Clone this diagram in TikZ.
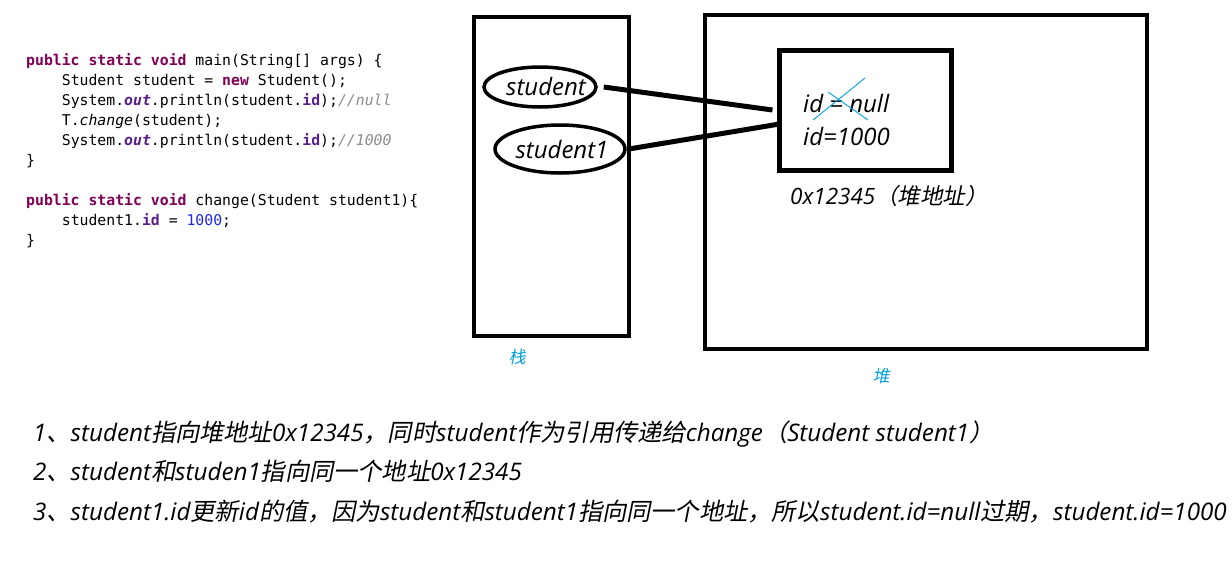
\documentclass[tikz,border=0pt]{standalone}
\usepackage{fontspec}
\usetikzlibrary{shapes.geometric}
\newfontfamily\lat{Open Sans}
\newfontfamily\cj[FakeSlant=0.2]{Noto Sans CJK SC}
\newfontfamily\code{DejaVu Sans Mono}
\newcommand\zh[1]{{\cj #1}}
\definecolor{kw}{RGB}{127,0,85}
\definecolor{fld}{RGB}{90,30,140}
\definecolor{num}{RGB}{30,40,240}
\definecolor{cmt}{RGB}{140,140,140}
\definecolor{lblue}{RGB}{0,160,230}
\newcommand\kwd[1]{{\bfseries\color{kw}#1}}
\newcommand\fd[1]{{\bfseries\itshape\color{fld}#1}}
\newcommand\fb[1]{{\bfseries\color{fld}#1}}
\newcommand\cm[1]{{\itshape\color{cmt}#1}}
\begin{document}
\begin{tikzpicture}[x=1pt,y=-1pt,
  box/.style={draw,line width=4pt,inner sep=0pt},
  oval/.style={draw,ellipse,line width=3.5pt,inner sep=0pt},
  link/.style={line width=5pt},
  codeline/.style={anchor=base west,inner sep=0pt,font=\code\fontsize{14.8}{16}\selectfont},
  note/.style={anchor=base west,inner sep=0pt,font=\lat\itshape\fontsize{24.2}{27}\selectfont},
  val/.style={anchor=base west,inner sep=0pt,font=\lat\itshape\fontsize{24}{28}\selectfont},
  tag/.style={inner sep=0pt,text=lblue,font=\cj\fontsize{17}{19}\selectfont}]
\useasboundingbox (0,0) rectangle (1232,581);
\fill[white] (0,0) rectangle (1232,581);
% code
\node[codeline] (c1) at (26,65) {\kwd{public} \kwd{static} \kwd{void} main(String[] args) \{};
\node[codeline] (c2) at (26,85) {\phantom{xxxx}Student student = \kwd{new} Student();};
\node[codeline] (c3) at (26,105) {\phantom{xxxx}System.\fd{out}.println(student.\fb{id});\cm{//null}};
\node[codeline] (c4) at (26,125) {\phantom{xxxx}T.{\itshape change}(student);};
\node[codeline] (c5) at (26,145) {\phantom{xxxx}System.\fd{out}.println(student.\fb{id});\cm{//1000}};
\node[codeline] (c6) at (26,165) {\}};
\node[codeline] (c7) at (26,205) {\kwd{public} \kwd{static} \kwd{void} change(Student student1)\{};
\node[codeline] (c8) at (26,225) {\phantom{xxxx}student1.\fb{id} = {\color{num}1000};};
\node[codeline] (c9) at (26,245) {\}};
% stack and heap
\node[box,minimum width=155pt,minimum height=319pt] (stack) at (551.5,176.5) {};
\node[box,minimum width=442pt,minimum height=334pt] (heap) at (926,182) {};
\node[box,line width=5pt,minimum width=172pt,minimum height=120pt] (obj) at (865,110) {};
\node[oval,minimum width=112pt,minimum height=40pt] (s) at (540,87) {};
\node[inner sep=0pt,font=\lat\itshape\fontsize{24}{28}\selectfont] (st) at (546,86) {student};
\node[oval,minimum width=130pt,minimum height=48pt] (s1) at (560,149) {};
\node[inner sep=0pt,font=\lat\itshape\fontsize{24}{28}\selectfont] (st1) at (562,149) {student1};
\draw[link] ([xshift=6pt]s.east) -- ([xshift=-4pt]obj.west);
\draw[link] ([xshift=2pt]s1.east) -- ([xshift=3pt,yshift=-14pt]obj.west);
% values
\node[val] (v1) at (803,112) {id = null};
\node[val] (v2) at (803,145) {id=1000};
\draw[lblue,line width=0.9pt] (813,120) -- (865,78);
\draw[lblue,line width=0.9pt] (828,92) -- (868,120);
\node[val,font=\lat\itshape\fontsize{22.5}{26}\selectfont] (addr) at (790,204) {0x12345\zh{（堆地址）}};
\node[tag] (lstack) at (517,357) {栈};
\node[tag] (lheap) at (881,376) {堆};
% notes
\node[note] (n1) at (33,441) {1\zh{、}student\zh{指向堆地址}0x12345\zh{，同时}student\zh{作为引用传递给}change\zh{（}Student student1\zh{）}};
\node[note] (n2) at (33,480) {2\zh{、}student\zh{和}studen1\zh{指向同一个地址}0x12345};
\node[note] (n3) at (33,520) {3\zh{、}student1.id\zh{更新}id\zh{的值，因为}student\zh{和}student1\zh{指向同一个地址，所以}student.id=null\zh{过期，}student.id=1000};
\end{tikzpicture}
\end{document}
